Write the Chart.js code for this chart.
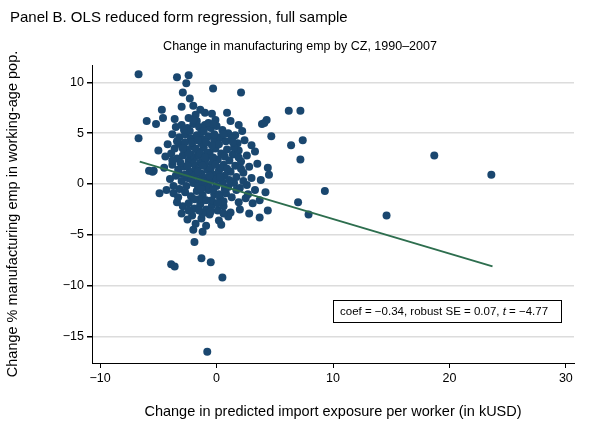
<!DOCTYPE html>
<html>
<head>
<meta charset="utf-8">
<script src="https://cdn.jsdelivr.net/npm/chart.js@4.4.0/dist/chart.umd.min.js"></script>
<style>
  html, body { margin: 0; padding: 0; background: #fff; }
  #wrap { width: 600px; height: 425px; }
</style>
</head>
<body>
<div id="wrap"><canvas id="c" width="600" height="425"></canvas></div>
<script>
// Points: change in import exposure (x) vs change in manufacturing emp share (y)
const POINTS_XY = [
  // outliers
  [-6.7,10.8],[-3.4,10.5],[-2.4,10.7],[-0.3,9.4],[2.1,9.0],[6.2,7.2],[7.2,7.2],[-6.0,6.2],[-5.2,5.9],[-4.7,7.3],
  [-6.7,4.5],[-5.0,3.3],[4.7,4.7],[6.4,3.8],[7.4,4.3],[7.2,2.4],[9.3,-0.7],[-5.4,1.3],[-4.9,-0.9],[7.0,-1.8],
  [7.9,-3.0],[-2.0,-4.5],[-1.2,-4.7],[-1.9,-5.7],[-1.3,-7.3],[-0.5,-7.7],[-3.9,-7.9],[-3.6,-8.1],[0.5,-9.2],
  [18.7,2.8],[23.6,0.9],[14.6,-3.1],[-0.8,-16.5],
  // upper ridge
  [-2.6,9.9],[-2.9,9.0],[-2.3,8.4],[-2.0,7.7],[-1.4,7.3],[-3.0,7.6],[-1.0,7.0],[-0.4,6.9],[0.9,7.0],[-1.8,6.8],
  [-3.6,6.4],[-2.4,6.5],[-0.1,6.3],[1.2,6.2],[1.9,5.8],[4.1,6.0],[4.3,6.3],[3.9,5.9],[-4.6,6.5],
  // y 3..6
  [-3.5,5.6],[-3.0,5.8],[-2.5,5.5],[-2.0,5.9],[-1.5,5.6],[-1.0,5.8],[-0.5,5.5],[0.0,5.7],[0.5,5.3],[1.0,5.0],
  [1.6,4.8],[2.2,5.2],[-3.8,4.9],[-3.2,4.6],[-2.7,4.9],[-2.2,4.5],[-1.7,4.8],[-1.2,4.4],[-0.7,4.7],[-0.2,4.3],
  [0.3,4.6],[0.8,4.2],[1.3,4.5],[1.8,4.0],[2.4,4.3],[3.0,3.8],[-4.2,3.9],[-3.6,3.5],[-3.1,3.9],[-2.6,3.4],
  [-2.1,3.7],[-1.6,3.2],[-1.1,3.6],[-0.6,3.1],[-0.1,3.5],[0.4,3.0],[0.9,3.4],[1.4,2.9],[1.9,3.3],[2.6,2.8],
  [3.3,3.2],[-4.4,2.7],[-3.9,3.0],
  // y 0..3
  [-3.4,2.5],[-2.9,2.8],[-2.4,2.3],[-1.9,2.6],[-1.4,2.1],[-0.9,2.5],[-0.4,2.0],[0.1,2.4],[0.6,1.9],[1.1,2.3],
  [1.6,1.8],[2.1,2.2],[2.8,1.7],[3.5,2.0],[4.4,1.6],[4.5,0.9],[-4.5,1.6],[-3.8,1.9],[-3.3,1.4],[-2.8,1.7],
  [-2.3,1.2],[-1.8,1.5],[-1.3,1.0],[-0.8,1.4],[-0.3,0.9],[0.2,1.3],[0.7,0.8],[1.2,1.2],[1.7,0.7],[2.3,1.1],
  [3.0,0.6],[3.8,0.4],[-4.0,0.5],[-3.5,0.8],[-3.0,0.3],[-2.5,0.6],[-2.0,0.1],[-1.5,0.4],[-1.0,-0.1],[-0.5,0.3],
  [0.0,-0.2],[0.5,0.2],[1.0,-0.3],[1.5,0.1],[2.0,-0.4],[2.6,-0.1],[3.3,-0.6],[4.2,-0.8],[-5.5,1.2],[-5.8,1.3],
  // y -1..-5
  [-4.3,-0.6],[-3.7,-0.9],[-3.2,-0.5],[-2.7,-0.8],[-2.2,-1.2],[-1.7,-0.7],[-1.2,-1.1],[-0.7,-0.6],[-0.2,-1.0],[0.3,-1.4],
  [0.8,-0.9],[1.3,-1.3],[1.9,-1.8],[2.5,-1.4],[3.1,-1.9],[3.7,-1.6],[4.4,-2.6],[-3.4,-1.8],[-2.9,-2.2],[-2.4,-1.9],
  [-1.9,-2.4],[-1.4,-2.0],[-0.9,-2.5],[-0.4,-2.1],[0.1,-2.6],[0.6,-2.2],[1.2,-2.8],[2.0,-2.5],[2.8,-2.9],[3.7,-3.3],
  [-3.0,-2.9],[-2.1,-3.1],[-1.3,-3.4],[-0.6,-3.0],[0.2,-3.6],[1.0,-3.2],[-1.8,-3.9],[-0.9,-4.1],[0.4,-4.0],[-2.5,-3.5],
  // dense centre
  [-1.5,2.8],[-1.0,2.0],[-0.5,1.5],[-1.2,1.8],[-2.0,2.0],[-0.8,3.0],[-1.8,3.5],[-1.3,4.0],[-0.3,2.6],[0.4,1.6],
  [-0.6,-0.4],[-1.6,-0.2],[-2.6,-0.2],[-2.2,2.9],[-2.7,4.1],[0.0,0.5],[-0.9,0.6],[-1.9,0.8],[0.7,2.7],[1.5,3.6],
  [-3.3,-1.3],[1.1,0.4],[-0.2,4.9],[-1.3,5.1],[-2.3,5.2],[-0.4,-1.6],[-1.5,-1.5],[0.6,-1.7],[1.7,-0.6],[2.3,0.3],
  [-2.8,5.3],[-3.4,4.2],[0.2,3.9],[-1.7,6.2],[-0.7,6.0],[-1.2,-2.9],
  [-2.1,4.1],[-1.6,4.3],[-0.9,4.1],[-0.4,3.8],[-1.4,3.0],[-2.4,3.0],[-1.0,2.6],[-0.1,1.9],[0.9,1.5],[-1.6,1.2],
  [-2.5,1.8],[-0.6,0.8],[0.3,0.7],[-1.2,0.3],[-2.2,0.5],[-0.3,-0.6],[0.7,-0.5],[-1.9,-1.5],[-0.9,-1.6],[0.1,-1.9],
  [-3.1,2.1],[-2.9,3.5],[-3.2,1.0],[-1.1,5.2],[-2.0,6.3],[-0.3,5.9],[0.6,4.9],[1.4,4.1],[2.1,1.5],[2.7,-1.0],
  [-2.4,-2.6],[-1.5,-2.6],[-0.5,-2.7],[0.6,-2.9],[-3.7,-0.2],[-3.8,2.3],[1.9,2.6],[0.2,-1.0],[-1.3,-0.5],[-2.7,0.9]
];
const FIT_X = [-6.6, 23.7];
const FIT_Y = [2.2, -8.1];
const X_TICKS = [-10, 0, 10, 20, 30];
const Y_TICKS = [-15, -10, -5, 0, 5, 10];

const FONT = "'Liberation Sans', Arial, sans-serif";
const NAVY = '#1a476f';
const GREEN = '#2d6e4e';

const textPlugin = {
  id: 'texts',
  afterDraw(chart) {
    const c = chart.ctx;
    c.save();
    c.fillStyle = '#000';
    c.textBaseline = 'middle';
    c.font = `15px ${FONT}`;
    c.textAlign = 'left';
    c.fillText('Panel B. OLS reduced form regression, full sample', 10, 18);
    c.font = `12.5px ${FONT}`;
    c.textAlign = 'center';
    c.fillText('Change in manufacturing emp by CZ, 1990–2007', 300, 47);

    // note box
    const bx = 333, by = 300, bw = 228, bh = 22;
    c.fillStyle = '#fff';
    c.fillRect(bx, by, bw, bh);
    c.strokeStyle = '#000';
    c.lineWidth = 1;
    c.strokeRect(bx + 0.5, by + 0.5, bw, bh);
    c.fillStyle = '#000';
    c.textAlign = 'left';
    const parts = [['coef = −0.34, robust SE = 0.07, ', ''], ['t', 'italic '], [' = −4.77', '']];
    let tx = bx + 7;
    parts.forEach(([s, st]) => {
      c.font = `${st}11.5px ${FONT}`;
      c.fillText(s, tx, by + bh / 2 + 1);
      tx += c.measureText(s).width;
    });
    c.restore();
  }
};

new Chart(document.getElementById('c'), {
  type: 'scatter',
  data: {
    datasets: [
      {
        label: 'fit',
        type: 'line',
        data: FIT_X.map((x, i) => ({ x, y: FIT_Y[i] })),
        borderColor: GREEN,
        borderWidth: 2,
        pointRadius: 0,
        order: 0
      },
      {
        label: 'CZ',
        data: POINTS_XY.map(([x, y]) => ({ x, y })),
        backgroundColor: NAVY,
        borderColor: NAVY,
        pointRadius: 4,
        borderWidth: 0,
        order: 1
      }
    ]
  },
  options: {
    responsive: false,
    animation: false,
    devicePixelRatio: 1,
    layout: { padding: { top: 65, right: 26, left: 0, bottom: 0 } },
    plugins: { legend: { display: false }, tooltip: { enabled: false }, title: { display: false } },
    scales: {
      x: {
        type: 'linear', min: -10.7, max: 30.7,
        afterBuildTicks: s => { s.ticks = X_TICKS.map(v => ({ value: v })); },
        afterFit: s => { s.height = 62; },
        border: { color: '#000', width: 1 },
        grid: { drawOnChartArea: false, tickLength: 5, color: '#000' },
        ticks: { color: '#000', font: { family: FONT, size: 12.5 }, maxRotation: 0, callback: v => String(v).replace('-', '−') },
        title: { display: true, text: 'Change in predicted import exposure per worker (in kUSD)', color: '#000', font: { family: FONT, size: 14.5 }, padding: { top: 8 } }
      },
      y: {
        type: 'linear', min: -17.6, max: 11.7,
        afterBuildTicks: s => { s.ticks = Y_TICKS.map(v => ({ value: v })); },
        afterFit: s => { s.width = 92; },
        border: { color: '#000', width: 1 },
        grid: { color: '#dcdcdc', lineWidth: 1.5, tickLength: 5, tickColor: '#000' },
        ticks: { color: '#000', font: { family: FONT, size: 12.5 }, callback: v => String(v).replace('-', '−') },
        title: { display: true, text: 'Change % manufacturing emp in working-age pop.', color: '#000', font: { family: FONT, size: 14.5 }, padding: { bottom: 6 } }
      }
    }
  },
  plugins: [textPlugin]
});
</script>
</body>
</html>
